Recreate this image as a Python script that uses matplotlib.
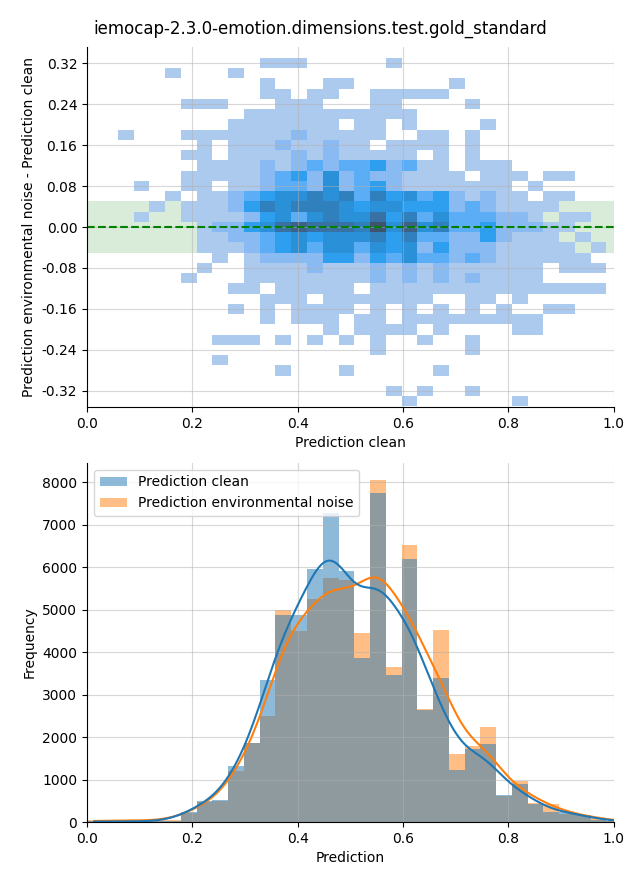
import numpy as np
import pandas as pd
import matplotlib
matplotlib.use('Agg')
import matplotlib.pyplot as plt
from matplotlib.ticker import FormatStrFormatter
import seaborn as sns

title = 'iemocap-2.3.0-emotion.dimensions.test.gold_standard'
label_clean = 'Prediction clean'
label_noise = 'Prediction environmental noise'

# bin edges shared by both panels
x_edges = -0.0013 + 0.02992 * np.arange(35)
y_edges = np.linspace(-0.351, 0.331, 35)

# 2d histogram of (clean, noise - clean), top row first
# '.' = empty cell, digit = colour level (1 light ... 9 dark)
diff_rows = [
    "...........111.....1..............",
    ".....1...1........................",
    "...........1...11......1..........",
    "...........11.11..11111...........",
    "......111...111...11....1.........",
    "..........11111111111.............",
    ".........1111111.11.1....1........",
    "..1...1111111211111..11.1.........",
    ".......1.111211211.1111.1.........",
    "......11.111121211111.1.1.........",
    ".......1111212323342311.111.......",
    "......111112342523221111.111.11...",
    "...1..11.112332523421111111.1.....",
    ".....1.112345565636453421211.11...",
    "....1.111246566654554442321111....",
    "...1..11112453565574635333221.11..",
    ".......122457877769585633422211...",
    ".......11223454555646332242111.1..",
    ".......111234535535452422211111.1.",
    "........1.1222244243533232111111..",
    ".......1..1111211121212111111.111.",
    "......1...1111111121212121111.....",
    ".........11.11111.111111111111111.",
    "...........111.1111111..11.1......",
    ".........1.1.1111.1.1.1.1.1..11...",
    "...........1.111.11.111111111.....",
    "...............1.1111.1....11.....",
    "........111.1.1.1.1..1..1.........",
    "..................1.....1.........",
    "........1.........................",
    "............1...1.....1...........",
    "..................................",
    "...................1.1..1.........",
    "....................1......1......",
]

# counts per bin of the lower histogram
counts_clean = [20, 10, 10, 15, 20, 30, 240, 500, 520, 1330, 1860, 3350,
                4880, 4880, 5950, 7270, 5900, 3850, 7740, 3450, 6180, 2630,
                3380, 1230, 1710, 1840, 630, 900, 420, 245, 240, 160, 50, 30]
counts_noise = [40, 30, 30, 35, 40, 50, 215, 460, 505, 1190, 1870, 2500,
                5000, 4490, 5260, 5735, 5690, 4440, 8050, 3660, 6510, 2670,
                4530, 1600, 1790, 2240, 620, 970, 455, 425, 190, 165, 95, 30]

x_centers = (x_edges[:-1] + x_edges[1:]) / 2
y_centers = (y_edges[:-1] + y_edges[1:]) / 2
n_x = len(x_centers)
n_y = len(y_centers)

# unpack the grid into points with weights
hx, hy, hw = [], [], []
for i, row in enumerate(diff_rows):
    assert len(row) == n_x, (i, len(row))
    for j, ch in enumerate(row):
        if ch != '.':
            hx.append(x_centers[j])
            hy.append(y_centers[n_y - 1 - i])
            hw.append(int(ch))
grid_df = pd.DataFrame({'x': hx, 'y': hy, 'w': hw})

hist_df = pd.DataFrame({
    'x': np.concatenate([x_centers, x_centers]),
    'w': np.concatenate([counts_clean, counts_noise]).astype(float),
    'kind': [label_clean] * n_x + [label_noise] * n_x,
})

fig = plt.figure(figsize=(6.4, 8.8), dpi=100)
fig.suptitle(title, fontsize=12, y=0.978)

# upper panel
ax1 = fig.add_axes([0.136, 0.5375, 0.823, 0.409])
ax1.axhspan(-0.05, 0.05, color='green', alpha=0.15, lw=0, zorder=0.5)
sns.histplot(data=grid_df, x='x', y='y', weights='w',
             bins=[list(x_edges), list(y_edges)], vmin=1, vmax=9, ax=ax1)
ax1.axhline(0, color='green', ls='--', lw=1.5)
ax1.set_xlim(0, 1)
ax1.set_ylim(-0.352, 0.352)
ax1.set_yticks(np.round(np.arange(-4, 5) * 0.08, 2))
ax1.yaxis.set_major_formatter(FormatStrFormatter('%.2f'))
ax1.grid(alpha=0.5)
ax1.set_xlabel('Prediction clean')
ax1.set_ylabel('Prediction environmental noise - Prediction clean')
sns.despine(ax=ax1)

# lower panel
ax2 = fig.add_axes([0.136, 0.0659, 0.823, 0.408])
sns.histplot(data=hist_df, x='x', weights='w', hue='kind',
             hue_order=[label_clean, label_noise], bins=list(x_edges),
             kde=True, kde_kws={'bw_adjust': 0.42}, linewidth=0, ax=ax2)
ax2.set_xlim(0, 1)
ax2.grid(alpha=0.5)
ax2.set_xlabel('Prediction')
ax2.set_ylabel('Frequency')
sns.move_legend(ax2, 'upper left', title=None)
sns.despine(ax=ax2)

plt.savefig('out.png')
